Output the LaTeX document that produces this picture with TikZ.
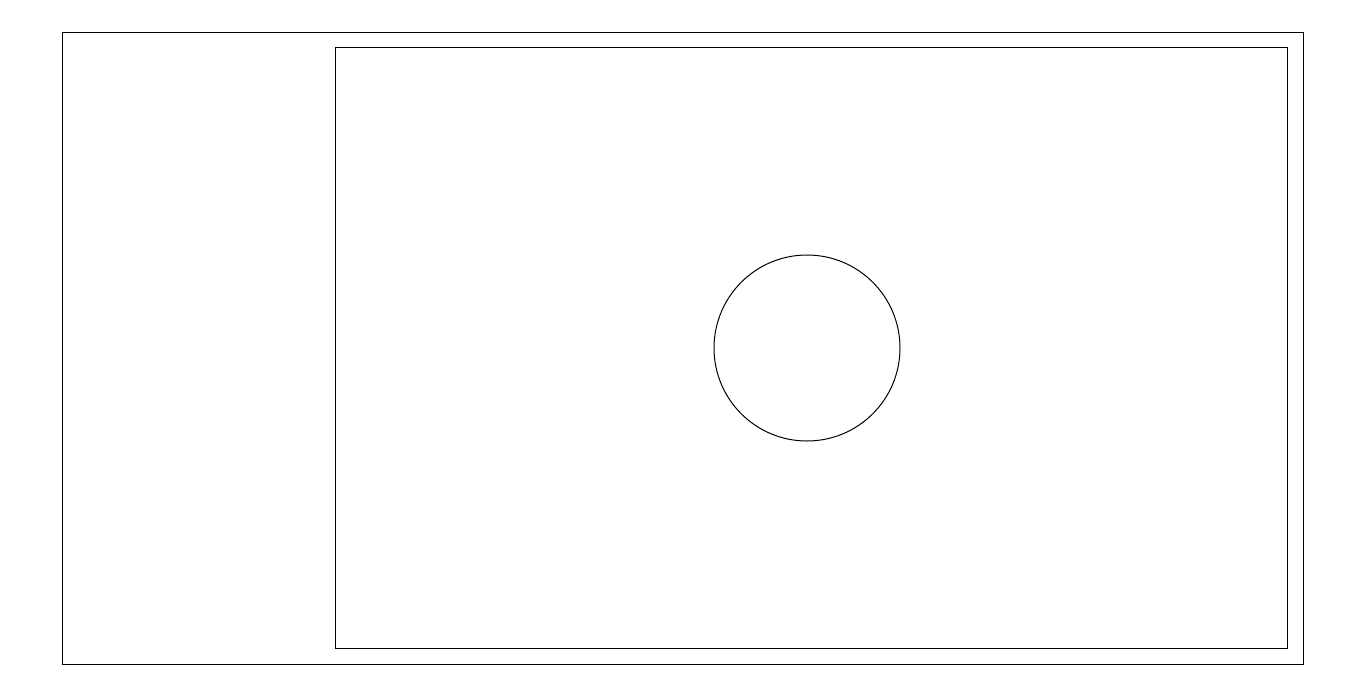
\documentclass[tikz,border=0pt]{standalone}
\begin{document}
\begin{tikzpicture}[x=0.5pt,y=-0.5pt,
  frame/.style={draw=black,line width=0.5pt},
  hole/.style={draw=black,line width=0.5pt,circle,minimum size=93pt,inner sep=0pt}]
\useasboundingbox[fill=white] (0,0) rectangle (1366,697);
\draw[frame] (62.5,32.5) rectangle (1303.5,664.5);
\draw[frame] (335.5,47.5) rectangle (1287.5,648.5);
\node[hole] (c) at (807,348) {};
\end{tikzpicture}
\end{document}
